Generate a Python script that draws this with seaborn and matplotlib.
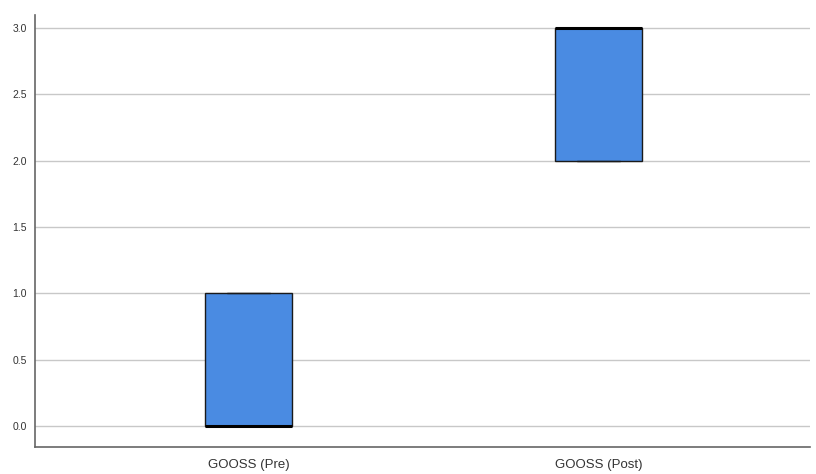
import matplotlib
matplotlib.use('Agg')
import matplotlib.pyplot as plt
import seaborn as sns
import pandas as pd
import numpy as np

# scores
groups = ['GOOSS (Pre)', 'GOOSS (Post)']
pre_scores = [0, 0, 0, 1, 1]
post_scores = [2, 2, 3, 3, 3]
y_ticks = [0.0, 0.5, 1.0, 1.5, 2.0, 2.5, 3.0]

df = pd.DataFrame({
    'group': [groups[0]] * len(pre_scores) + [groups[1]] * len(post_scores),
    'score': pre_scores + post_scores,
})

sns.set_style('white')
plt.rcParams['font.family'] = ['Liberation Sans', 'DejaVu Sans']

fig = plt.figure(figsize=(8.16, 4.74), dpi=100)
ax = fig.add_axes([0.0429, 0.057, 0.9497, 0.911])

ax.set_axisbelow(True)
for t in y_ticks:
    ax.axhline(t, color='#c8c8c8', linewidth=1, zorder=0)

sns.boxplot(data=df, x='group', y='score', order=groups, ax=ax,
            color='#4a8be2', saturation=1, width=0.249,
            linecolor='#1a1a1a', linewidth=1,
            medianprops={'linewidth': 2.2, 'color': 'black'},
            capprops={'linewidth': 1.0},
            fliersize=0)

ax.set_xlim(-0.61, 1.604)
ax.set_ylim(-0.158, 3.098)
ax.set_yticks(y_ticks)
ax.set_yticklabels([f'{t:.1f}' for t in y_ticks])
ax.set_xlabel('')
ax.set_ylabel('')
ax.tick_params(axis='y', length=0, labelsize=7.5, labelcolor='#333333', pad=6)
ax.tick_params(axis='x', length=0, labelsize=9.5, labelcolor='#333333', pad=9)

for side in ['top', 'right']:
    ax.spines[side].set_visible(False)
for side in ['left', 'bottom']:
    ax.spines[side].set_color('#666666')
    ax.spines[side].set_linewidth(1.2)

fig.savefig('out.png', dpi=100)
